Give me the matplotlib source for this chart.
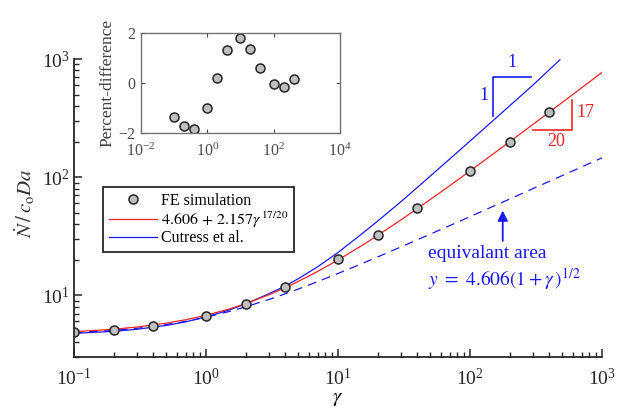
import matplotlib
matplotlib.use("Agg")
import matplotlib.pyplot as plt
from matplotlib.ticker import LogLocator, NullFormatter

plt.rcParams["font.family"] = "serif"
plt.rcParams["font.serif"] = ["Liberation Serif", "DejaVu Serif"]
plt.rcParams["mathtext.fontset"] = "stix"

# FE simulation points and percent difference (inset)
feGamma = [0.1, 0.2, 0.4, 1, 2, 4, 10, 20, 40, 100, 200, 400]
feValues = [4.85, 5.07, 5.49, 6.69, 8.51, 11.77, 20.2, 32.6, 54.5, 112.6, 199.2, 356.6]
pctDiff = [-1.36, -1.72, -1.84, -1.0, 0.2, 1.3, 1.78, 1.34, 0.6, -0.06, -0.16, 0.16]

# curves
curveGamma = [0.1, 0.2, 0.3, 0.5, 0.7, 1, 1.5, 2, 3, 4, 5, 7, 10, 15, 20, 30, 50, 70,
              100, 150, 200, 300, 500, 700, 1000]
fitValues = [4.911, 5.155, 5.381, 5.803, 6.199, 6.763, 7.651, 8.494, 10.09, 11.61, 13.08,
             15.88, 19.88, 26.16, 32.13, 43.46, 64.57, 84.4, 112.7, 157.2, 199.5, 279.6,
             429.2, 569.6, 769.9]
eqAreaValues = [4.831, 5.046, 5.252, 5.641, 6.006, 6.514, 7.283, 7.978, 9.212, 10.30, 11.28,
                13.03, 15.28, 18.42, 21.11, 25.65, 32.89, 38.81, 46.29, 56.60, 65.30, 79.89,
                103.1, 121.9, 145.7]
cutressGamma = [0.1, 0.2, 0.3, 0.5, 0.7, 1, 1.5, 2, 3, 4, 5, 7, 10, 15, 20, 30, 50, 70,
                100, 150, 200, 300, 480]
cutressValues = [4.75, 4.95, 5.15, 5.55, 5.95, 6.55, 7.5, 8.45, 10.3, 12.0, 13.8, 17.4, 23.0,
                 32.8, 42.5, 62, 102, 142, 202, 302, 402, 602, 985]

blue = (0.1, 0.1, 0.95)
red = (0.95, 0.15, 0.15)
dark = (0.15, 0.15, 0.15)

fig = plt.figure(figsize=(6.18, 4.15), dpi=100)
ax = fig.add_axes([74/618, 1-357/415, 528/618, 298/415])

ax.plot(curveGamma, eqAreaValues, color=blue, lw=0.9, dashes=(7, 5))
ax.plot(cutressGamma, cutressValues, color=blue, lw=0.9, label="Cutress et al.")
ax.plot(curveGamma, fitValues, color=red, lw=0.9, label=r"$4.606\,+\,2.157\gamma^{\,17/20}$")
ax.plot(feGamma, feValues, "o", ms=6.5, mfc=(0.75, 0.75, 0.75), mec=dark,
        mew=1.1, label="FE simulation")

ax.set_xscale("log")
ax.set_yscale("log")
ax.set_xlim(0.1, 1000)
ax.set_ylim(3, 1000)
for s in ["top", "right"]:
    ax.spines[s].set_visible(False)
for s in ["left", "bottom"]:
    ax.spines[s].set_linewidth(1.3)
    ax.spines[s].set_color(dark)
ax.xaxis.set_minor_locator(LogLocator(base=10, subs=range(2, 10), numticks=20))
ax.yaxis.set_minor_locator(LogLocator(base=10, subs=range(2, 10), numticks=20))
ax.xaxis.set_minor_formatter(NullFormatter())
ax.yaxis.set_minor_formatter(NullFormatter())
ax.tick_params(which="major", direction="in", length=6, width=1.1, labelsize=14, colors=dark)
ax.tick_params(which="minor", direction="in", length=3.5, width=1.0, colors=dark)
ax.tick_params(axis="x", which="major", pad=8)
ax.tick_params(axis="y", which="major", pad=3)

ax.set_xlabel(r"$\gamma$", fontsize=15, labelpad=0)
fig.text(25/618, 1-203/415, r"$\dot{N}\,/\,c_{\mathrm{o}}Da$", fontsize=15, rotation=90,
         ha="center", va="center", color=(0.2, 0.2, 0.2))

# slope triangles
ax.plot([149, 149, 292], [332, 701, 701], color=blue, lw=1.2)
ax.text(207, 942, "1", color=blue, fontsize=13, ha="center", va="center")
ax.text(127, 492, "1", color=blue, fontsize=13, ha="center", va="center")
ax.plot([298, 594, 594], [252, 252, 447], color=red, lw=1.2)
ax.text(640, 352, "17", color=red, fontsize=13, ha="left", va="center")
ax.text(451, 199, "20", color=red, fontsize=13, ha="center", va="center")

# equivalent area note
ax.annotate("", xy=(177, 55), xytext=(177, 27.3),
            arrowprops=dict(arrowstyle="-|>,head_length=0.6,head_width=0.3", color=blue, lw=1.3))
ax.text(48, 22.4, "equivalant area", color=blue, fontsize=14, ha="left", va="center")
ax.text(48, 13.7, r"$y\ =\ 4.606(1+\gamma\,)^{1/2}$", color=blue, fontsize=14, ha="left",
        va="center")

handles, labels = ax.get_legend_handles_labels()
order = [2, 1, 0]
leg = ax.legend([handles[i] for i in order], [labels[i] for i in order],
                loc="upper left", bbox_to_anchor=(103/618, 1-187/415),
                bbox_transform=fig.transFigure, fontsize=11.5, handlelength=3.0,
                labelspacing=0.05, borderpad=0.35, borderaxespad=0, handletextpad=0.3,
                fancybox=False, framealpha=1)
leg.get_frame().set_edgecolor(dark)
leg.get_frame().set_linewidth(1.3)

# inset
ins = fig.add_axes([141/618, 1-133/415, 199/618, 100/415])
ins.plot(feGamma, pctDiff, "o", ms=6.5, mfc=(0.75, 0.75, 0.75), mec=dark, mew=1.1)
ins.set_xscale("log")
ins.set_xlim(1e-2, 1e4)
ins.set_ylim(-2, 2)
ins.set_xticks([1e-2, 1, 1e2, 1e4])
ins.set_yticks([-2, 0, 2])
ins.xaxis.set_minor_locator(plt.NullLocator())
for s in ins.spines.values():
    s.set_color((0.45, 0.45, 0.45))
    s.set_linewidth(1.0)
ins.tick_params(direction="in", length=3, labelsize=11.5, colors=(0.3, 0.3, 0.3),
                top=True, right=True)
ins.tick_params(axis="x", pad=7)
ins.tick_params(axis="y", pad=4)
ins.set_ylabel("Percent-difference", fontsize=12.5, color=(0.25, 0.25, 0.25), labelpad=2)

fig.savefig("out.png", dpi=100)
